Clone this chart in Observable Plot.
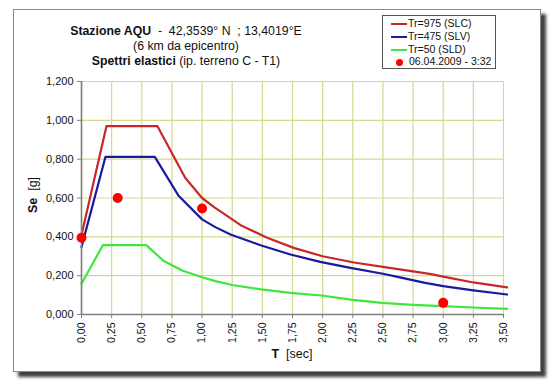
<!DOCTYPE html>
<html>
<head>
<meta charset="utf-8">
<script src="https://cdn.jsdelivr.net/npm/d3@7"></script>
<script src="https://cdn.jsdelivr.net/npm/@observablehq/plot@0.6"></script>
<style>
  html, body { margin: 0; padding: 0; background: #fff; }
  #wrap { position: relative; width: 554px; height: 384px; overflow: hidden; font-family: "Liberation Sans", Arial, Helvetica, sans-serif; color: #111; }
  #frame { position: absolute; left: 13px; top: 9px; width: 526px; height: 361px; border: 1.5px solid #8a8a8a; background: #fff; box-shadow: 5px 5px 3px rgba(30,30,30,0.85); }
  #chart { position: absolute; left: 0; top: 0; }
  .t { position: absolute; left: 0; width: 372px; text-align: center; font-size: 12.3px; white-space: nowrap; }
  #legend { position: absolute; left: 382px; top: 15px; width: 112px; height: 52px; border: 1px solid #555; background: #fff; font-size: 10.5px; }
  .row { position: absolute; left: 8px; height: 13px; line-height: 13px; white-space: nowrap; }
  .sw { display: inline-block; width: 16px; height: 2.5px; vertical-align: middle; margin-right: 1px; }
  .dot { display: inline-block; width: 7px; height: 7px; border-radius: 50%; background: #ff0000; vertical-align: middle; margin: 0 6px 0 5px; }
  #ylab { position: absolute; left: 33px; top: 195px; transform: translate(-50%, -50%) rotate(-90deg); font-size: 12.5px; white-space: nowrap; }
  #xlab { position: absolute; left: 292px; top: 354px; transform: translate(-50%, -50%); font-size: 12.5px; white-space: nowrap; }
</style>
</head>
<body>
<div id="wrap">
  <div id="frame"></div>
  <div id="chart"></div>
  <div class="t" style="top:24px"><b>Stazione AQU</b>&nbsp; - &nbsp;42,3539° N &nbsp;; 13,4019°E</div>
  <div class="t" style="top:39px">(6 km da epicentro)</div>
  <div class="t" style="top:54px"><b>Spettri elastici</b> (ip. terreno C - T1)</div>
  <div id="legend">
    <div class="row" style="top:1px"><span class="sw" style="background:#c8282a"></span>Tr=975 (SLC)</div>
    <div class="row" style="top:14px"><span class="sw" style="background:#1a1aa0"></span>Tr=475 (SLV)</div>
    <div class="row" style="top:27px"><span class="sw" style="background:#3ee63e"></span>Tr=50 (SLD)</div>
    <div class="row" style="top:39px"><span class="dot"></span>06.04.2009 - 3:32</div>
  </div>
  <div id="ylab"><b>Se</b>&nbsp; [g]</div>
  <div id="xlab"><b>T</b>&nbsp; [sec]</div>
</div>
<script>
// Tr=975 (SLC)
const slcT  = [0, 0.207, 0.63, 0.86, 1.0, 1.1, 1.32, 1.54, 1.76, 2.0, 2.26, 2.5, 2.75, 2.9, 3.0, 3.25, 3.53];
const slcSe = [0.41, 0.97, 0.97, 0.704, 0.60, 0.553, 0.46, 0.395, 0.343, 0.30, 0.268, 0.245, 0.222, 0.208, 0.195, 0.165, 0.14];
// Tr=475 (SLV)
const slvT  = [0, 0.199, 0.608, 0.807, 1.0, 1.11, 1.236, 1.485, 1.733, 1.98, 2.23, 2.5, 2.65, 2.85, 3.0, 3.25, 3.53];
const slvSe = [0.347, 0.812, 0.812, 0.61, 0.49, 0.45, 0.412, 0.357, 0.309, 0.271, 0.24, 0.21, 0.19, 0.163, 0.146, 0.124, 0.103];
// Tr=50 (SLD)
const sldT  = [0, 0.177, 0.537, 0.683, 0.835, 1.0, 1.11, 1.25, 1.49, 1.73, 1.99, 2.25, 2.49, 2.75, 2.99, 3.25, 3.53];
const sldSe = [0.158, 0.357, 0.357, 0.275, 0.227, 0.192, 0.172, 0.152, 0.129, 0.111, 0.098, 0.075, 0.06, 0.05, 0.043, 0.036, 0.029];
// 06.04.2009 - 3:32 recorded
const obsT  = [0, 0.3, 1.0, 3.0];
const obsSe = [0.395, 0.60, 0.546, 0.06];
// ticks
const xTicks = [0, 0.25, 0.5, 0.75, 1, 1.25, 1.5, 1.75, 2, 2.25, 2.5, 2.75, 3, 3.25, 3.5];
const yTicks = [0, 0.2, 0.4, 0.6, 0.8, 1.0, 1.2];

const mk = (T, S) => T.map((t, i) => ({T: t, Se: S[i]}));
const slc = mk(slcT, slcSe), slv = mk(slvT, slvSe), sld = mk(sldT, sldSe), obs = mk(obsT, obsSe);

const grid = "#d3d98f";
const axisCol = "#7f7f7f";

const chart = Plot.plot({
  width: 554,
  height: 384,
  marginLeft: 81,
  marginRight: 51,
  marginTop: 81,
  marginBottom: 70,
  style: {background: "transparent", fontFamily: "Liberation Sans, Arial, sans-serif", fontSize: "10.5px", color: "#111"},
  x: {domain: [0, 3.5]},
  y: {domain: [0, 1.2]},
  marks: [
    Plot.gridX(xTicks, {stroke: grid, strokeOpacity: 1, strokeWidth: 1.2}),
    Plot.gridY(yTicks, {stroke: grid, strokeOpacity: 1, strokeWidth: 1.2}),
    Plot.line(sld, {x: "T", y: "Se", stroke: "#3ee63e", strokeWidth: 2.2}),
    Plot.line(slv, {x: "T", y: "Se", stroke: "#1a1aa0", strokeWidth: 2.2}),
    Plot.line(slc, {x: "T", y: "Se", stroke: "#c8282a", strokeWidth: 2.2}),
    Plot.ruleX([0], {stroke: axisCol, strokeWidth: 1.6}),
    Plot.ruleY([0], {stroke: axisCol, strokeWidth: 1.6}),
    Plot.axisY(yTicks, {tickSize: 4, tickPadding: 4, stroke: axisCol, fontSize: 11, tickFormat: d => d.toFixed(3).replace(".", ","), label: null}),
    Plot.axisX(xTicks, {tickSize: 4, tickPadding: 4, tickRotate: -90, stroke: axisCol, fontSize: 10.5, tickFormat: d => d.toFixed(2).replace(".", ","), label: null}),
    Plot.dot(obs, {x: "T", y: "Se", r: 5, fill: "#ff0000", stroke: "none"})
  ]
});
document.getElementById("chart").appendChild(chart);
</script>
</body>
</html>
